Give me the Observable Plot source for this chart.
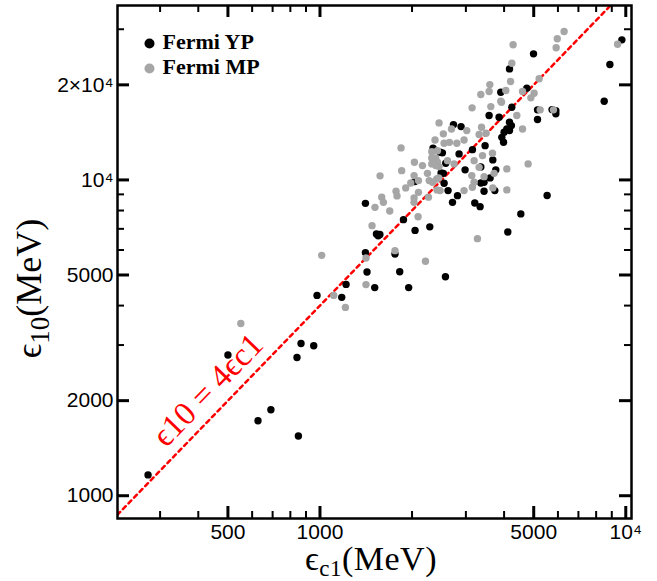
<!DOCTYPE html>
<html><head><meta charset="utf-8">
<script src="https://cdn.jsdelivr.net/npm/d3@7"></script>
<script src="https://cdn.jsdelivr.net/npm/@observablehq/plot@0.6"></script>
<style>body{margin:0;background:#fff;}</style>
</head><body><div id="chart"></div>
<script>
// Fermi YP (black) — eps_c1 (MeV) and eps_10 (MeV)
const ypX = [274,500,627,691,850,841,867,954,978,1178,1217,1408,1425,1510,1408,1530,1570,1550,1759,1823,1875,1950,2046,2286,2712,3208,3339,4537,4113,2572,2343,2470,2489,2042,2732,2893,3573,3852,4239,5145,5145,4166,4226,4083,4166,4000,3932,3983,2514,2850,3467,3152,3357,3674,3758,2982,2578,2532,2623,2546,2816,3357,3440,3600,3440,3730,5530,4992,4166,3902,4747,5740,5906,5906,9710,8872,8500];
const ypY = [1164,2790,1727,1871,1545,2741,3035,2985,4308,4248,4669,5884,5111,4560,8431,6745,6720,6650,5826,5120,7484,4560,6922,7101,8490,8455,8230,7805,6843,4938,12594,12230,10524,9880,14970,14750,15990,15790,16980,16670,15530,15230,14860,14500,14330,14150,13640,13155,12180,12090,12840,12470,10995,11570,10760,10760,11290,10490,9250,9755,8918,9783,9830,10150,9203,9250,8930,25070,22470,18950,19510,16700,16550,16190,27770,23190,17740];
// Fermi MP (grey)
const mpX = [551,1013,1109,1211,1414,1414,1480,1513,1612,1691,1759,2093,2030,2213,3273,2451,1841,2320,2378,2320,2391,2422,2320,2391,2036,2163,1850,1572,2031,2246,2099,2276,2409,1981,1907,1773,1786,1592,2099,2031,2263,2414,3143,3620,3923,4402,4596,5248,2692,3020,3375,3493,3314,2959,2802,2546,2422,3400,3665,3192,3314,2612,2451,2745,3136,3710,4083,4793,3192,3440,2445,2470,2959,3150,3674,4083,2333,4281,4239,4200,3593,3573,3357,3902,4053,4596,5015,4893,5208,5920,5970,6286,9402,5802,2532,2650];
const mpY = [3512,5770,4308,3948,4661,5660,7164,8188,8490,7976,5970,7649,8490,5527,6516,15156,12630,12290,13385,11740,11740,11370,11240,11100,11370,11100,10700,10300,10320,10490,9950,9950,10070,9783,9434,9203,8900,8819,9135,8770,8819,9297,16910,17070,17620,15990,14500,16670,14500,14330,14680,14050,13920,13385,13060,13060,12380,11940,12140,11510,10960,11510,11020,11240,10320,10490,10835,11240,9830,10240,10150,9250,9250,9475,9434,9297,9830,26780,23420,20490,20040,19050,18640,17740,19190,19050,18810,18190,20900,26200,27980,29500,26900,16670,13990,13150];

const seriesNames = ["Fermi YP", "Fermi MP"];
const seriesColors = ["#000000", "#a6a6a6"];

// reference line eps_10 = 4 eps_c1
const lineX = [200, 9000];
const lineY = [800, 36000];
const lineLabel = "ϵ10 = 4ϵc1";
const lineLabelX = 430;
const lineLabelY = 2160;

const xDomain = [217.7, 10440];
const yDomain = [847, 35670];
const xMajor = [500, 1000, 5000, 10000];
const xMajorLabels = ["500", "1000", "5000", "10⁴"];
const xMinor = [300, 400, 600, 700, 800, 900, 2000, 3000, 4000, 6000, 7000, 8000, 9000];
const yMajor = [1000, 2000, 5000, 10000, 20000];
const yMajorLabels = ["1000", "2000", "5000", "10⁴", "2×10⁴"];
const yMinor = [3000, 4000, 6000, 7000, 8000, 9000, 30000];

const yp = ypX.map((x, i) => ({x, y: ypY[i]}));
const mp = mpX.map((x, i) => ({x, y: mpY[i]}));
const refLine = lineX.map((x, i) => ({x, y: lineY[i]}));

const W = 657, H = 581, mL = 117, mR = 26, mT = 5, mB = 63;
const fw = W - mL - mR, fh = H - mT - mB;

// inward ticks on all four sides (ticks shortened with insets)
function tickMarksX(values, len, sw, side) {
  const o = {x: d => d, stroke: "black", strokeWidth: sw};
  if (side === "bottom") o.insetTop = fh - len; else o.insetBottom = fh - len;
  return Plot.tickX(values, o);
}
function tickMarksY(values, len, sw, side) {
  const o = {y: d => d, stroke: "black", strokeWidth: sw};
  if (side === "left") o.insetRight = fw - len; else o.insetLeft = fw - len;
  return Plot.tickY(values, o);
}

const chart = Plot.plot({
  width: W, height: H,
  marginLeft: mL, marginRight: mR, marginTop: mT, marginBottom: mB,
  x: {type: "log", domain: xDomain, label: null, axis: null},
  y: {type: "log", domain: yDomain, label: null, axis: null},
  style: {fontFamily: "'Liberation Sans', Arial, sans-serif", fontSize: "21px", color: "black", background: "white", overflow: "visible"},
  marks: [
    Plot.line(refLine, {x: "x", y: "y", stroke: "red", strokeWidth: 2.5, strokeDasharray: "4,4", clip: true}),
    Plot.dot(yp, {x: "x", y: "y", r: 3.7, fill: seriesColors[0]}),
    Plot.dot(mp, {x: "x", y: "y", r: 3.7, fill: seriesColors[1]}),
    Plot.text([lineLabel], {x: [lineLabelX], y: [lineLabelY], text: d => d, rotate: -45.9, fill: "red", fontSize: 33, fontFamily: "'Liberation Serif', serif", lineAnchor: "middle", textAnchor: "middle"}),
    tickMarksX(xMajor, 12, 3, "bottom"), tickMarksX(xMinor, 7, 2, "bottom"),
    tickMarksX(xMajor, 12, 3, "top"), tickMarksX(xMinor, 7, 2, "top"),
    tickMarksY(yMajor, 12, 3, "left"), tickMarksY(yMinor, 7, 2, "left"),
    tickMarksY(yMajor, 12, 3, "right"), tickMarksY(yMinor, 7, 2, "right"),
    // tick labels
    Plot.text(xMajor, {x: d => d, frameAnchor: "bottom", lineAnchor: "top", dy: 6, text: (d, i) => xMajorLabels[i], fontSize: 21, fill: "black"}),
    Plot.text(yMajor, {y: d => d, frameAnchor: "left", textAnchor: "end", lineAnchor: "middle", dx: -4, text: (d, i) => yMajorLabels[i], fontSize: 21, fill: "black"}),
    Plot.frame({stroke: "black", strokeWidth: 2.5}),
    // legend
    Plot.dot([seriesNames[0]], {frameAnchor: "top-left", dx: 32, dy: 38, r: 5, fill: seriesColors[0]}),
    Plot.dot([seriesNames[1]], {frameAnchor: "top-left", dx: 32, dy: 63, r: 5, fill: seriesColors[1]}),
    Plot.text([seriesNames[0]], {frameAnchor: "top-left", dx: 45, dy: 36, text: d => d, textAnchor: "start", lineAnchor: "middle", fontSize: 22, fontWeight: "bold", fontFamily: "'Liberation Serif', serif"}),
    Plot.text([seriesNames[1]], {frameAnchor: "top-left", dx: 45, dy: 61, text: d => d, textAnchor: "start", lineAnchor: "middle", fontSize: 22, fontWeight: "bold", fontFamily: "'Liberation Serif', serif"})
  ]
});
document.getElementById("chart").appendChild(chart);

// axis titles (LaTeX-like, with subscripts)
const svg = d3.select(chart);
const xr = chart.scale("x").range;
const yr = chart.scale("y").range;
const xTitle = svg.append("text")
  .attr("x", (xr[0] + xr[1]) / 2 - 3).attr("y", 570)
  .attr("text-anchor", "middle")
  .style("font-family", "'Liberation Serif', serif").style("font-size", "34px").style("letter-spacing", "0.5px").attr("fill", "black");
xTitle.append("tspan").text("ϵ");
xTitle.append("tspan").attr("dy", 6).style("font-size", "23px").text("c1");
xTitle.append("tspan").attr("dy", -6).text("(MeV)");

const yTitle = svg.append("text")
  .attr("transform", `translate(41,${(yr[0] + yr[1]) / 2 + 27}) rotate(-90)`)
  .attr("text-anchor", "middle")
  .style("font-family", "'Liberation Serif', serif").style("font-size", "36px").attr("fill", "black");
yTitle.append("tspan").text("ϵ");
yTitle.append("tspan").attr("dy", 8).style("font-size", "27px").text("10");
yTitle.append("tspan").attr("dy", -8).text("(MeV)");
</script>
</body></html>
